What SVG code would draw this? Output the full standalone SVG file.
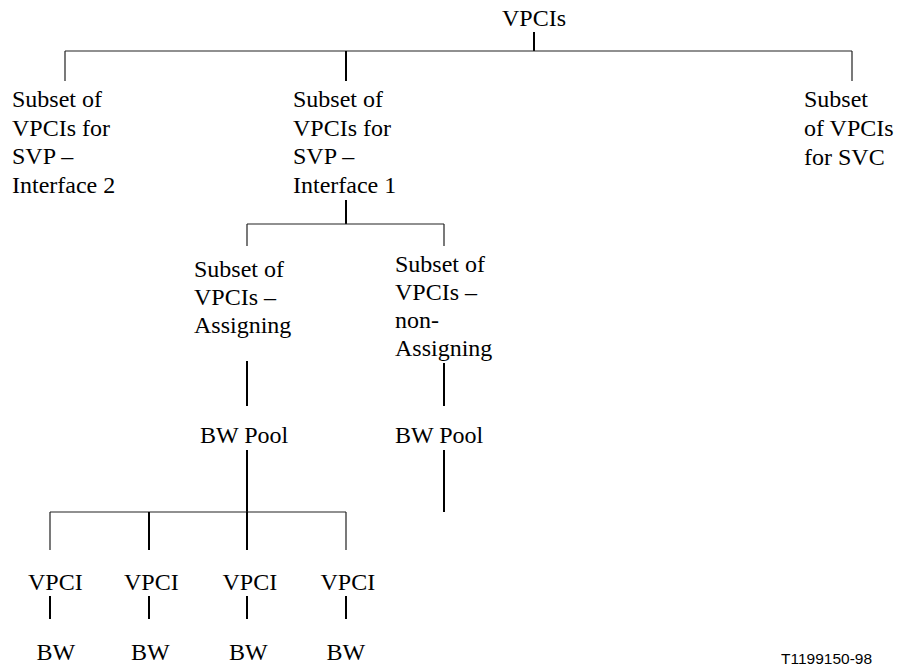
<svg xmlns="http://www.w3.org/2000/svg" width="901" height="668" viewBox="0 0 901 668">
<style>
.n{font-family:'Liberation Serif','Times New Roman',serif;font-size:24px;fill:#000}
.s{font-family:'Liberation Sans',Arial,sans-serif;font-size:15.5px;fill:#000}
.t{stroke:#222;stroke-width:1.2;fill:none}
.k{stroke:#000;stroke-width:2;fill:none}
</style>
<rect width="901" height="668" fill="#fff"/>
<g id="connectors">
<path class="k" d="M534 32V51"/>
<path class="t" d="M65 51H852M65 51V81M852 51V81"/>
<path class="k" d="M346 51V81"/>
<path class="k" d="M346 200V224"/>
<path class="t" d="M247 224H444M247 224V246M444 224V246"/>
<path class="k" d="M247 361V406M444 363V406"/>
<path class="k" d="M247 450V512M444 450V512"/>
<path class="t" d="M50 512H346M50 512V550M346 512V550"/>
<path class="k" d="M149 512V550M247 512V550"/>
<path class="k" d="M50 596V619M149 596V619M247 596V619M346 596V619"/>
</g>
<g class="n">
<g id="root"><text x="534" y="26" text-anchor="middle">VPCIs</text></g>
<g id="svp2"><text x="12" y="107">Subset of</text><text x="12" y="135.5">VPCIs for</text><text x="12" y="164">SVP –</text><text x="12" y="192.5">Interface 2</text></g>
<g id="svp1"><text x="293" y="107">Subset of</text><text x="293" y="135.5">VPCIs for</text><text x="293" y="164">SVP –</text><text x="293" y="192.5">Interface 1</text></g>
<g id="svc"><text x="804" y="107">Subset</text><text x="804" y="136">of VPCIs</text><text x="804" y="165">for SVC</text></g>
<g id="assigning"><text x="194" y="277">Subset of</text><text x="194" y="305">VPCIs –</text><text x="194" y="333">Assigning</text></g>
<g id="nonassigning"><text x="395" y="272">Subset of</text><text x="395" y="300">VPCIs –</text><text x="395" y="328">non-</text><text x="395" y="356">Assigning</text></g>
<g id="pool1"><text x="200" y="443">BW Pool</text></g>
<g id="pool2"><text x="395" y="443">BW Pool</text></g>
<g id="vpci1"><text x="28" y="590">VPCI</text></g>
<g id="vpci2"><text x="124" y="590">VPCI</text></g>
<g id="vpci3"><text x="222.5" y="590">VPCI</text></g>
<g id="vpci4"><text x="320.5" y="590">VPCI</text></g>
<g id="bw1"><text x="36.5" y="660">BW</text></g>
<g id="bw2"><text x="131" y="660">BW</text></g>
<g id="bw3"><text x="229" y="660">BW</text></g>
<g id="bw4"><text x="326.5" y="660">BW</text></g>
</g>
<g id="label"><text class="s" x="781" y="664">T1199150-98</text></g>
</svg>
